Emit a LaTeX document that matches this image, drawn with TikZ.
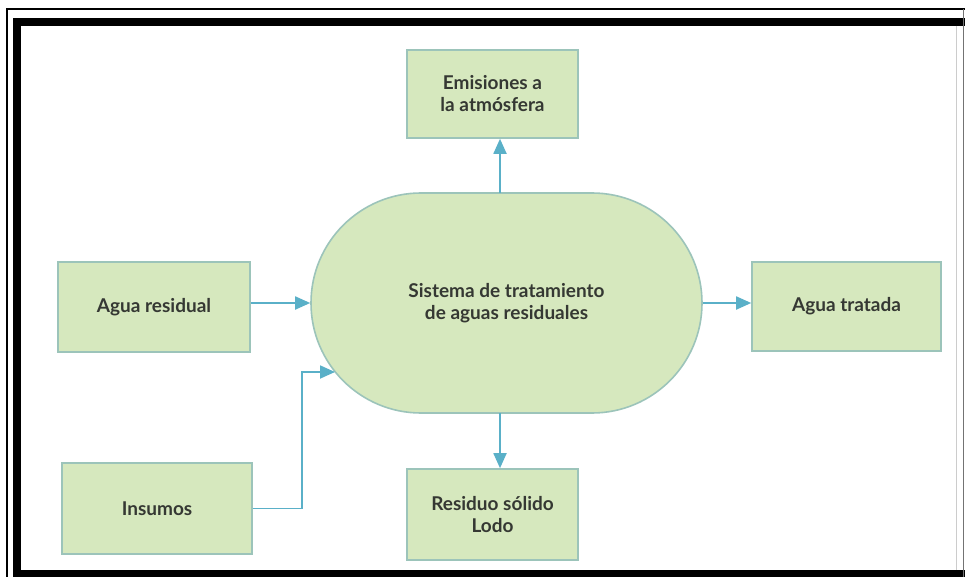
\documentclass[tikz,border=0pt]{standalone}
\usepackage{fontspec}
\setmainfont{Lato}
\usetikzlibrary{arrows.meta}
\definecolor{boxfill}{HTML}{D6E8BE}
\definecolor{boxline}{HTML}{9CC4BA}
\definecolor{arrowc}{HTML}{5AB0C8}
\definecolor{txt}{HTML}{353833}
\tikzset{
  box/.style={draw=boxline, fill=boxfill, line width=1.6pt, inner sep=0pt,
    font=\fontsize{19}{22}\selectfont\bfseries, text=txt, align=center},
  conn/.style={draw=arrowc, line width=1.8pt,
    -{Triangle[length=15pt,width=13pt,fill=arrowc]}},
}
\begin{document}
\begin{tikzpicture}[x=1pt,y=-1pt]
\useasboundingbox (0,0) rectangle (965,577);
\fill[white] (0,0) rectangle (965,577);
% frame
\draw[line width=1.8pt] (7,577) -- (7,9) -- (965,9);
\fill[black] (13,18) rectangle (965,26);
\fill[black] (13,18) rectangle (21,577);
\fill[black] (13,570) rectangle (965,577);
\draw[line width=0.9pt, black!55] (963,9) -- (963,577);
\draw[line width=0.8pt, black!20] (956,26) -- (956,570);
% nodes
\node[box, minimum width=171pt, minimum height=88pt] (emi) at (492.5,94) {Emisiones a\\la atmósfera};
\node[box, rounded corners=110pt, minimum width=391pt, minimum height=220pt] (sis) at (506.5,303) {Sistema de tratamiento\\de aguas residuales};
\node[box, minimum width=192pt, minimum height=90pt] (res) at (154,307) {Agua residual};
\node[box, minimum width=190pt, minimum height=91pt] (ins) at (157,508.5) {Insumos};
\node[box, minimum width=189pt, minimum height=89pt] (tra) at (846.5,306.5) {Agua tratada};
\node[box, minimum width=171pt, minimum height=91pt] (lod) at (492.5,514.5) {Residuo sólido\\Lodo};
% connectors
\coordinate (top) at (500,193);
\coordinate (bot) at (500,413);
\draw[conn] (top) -- (emi.south -| top);
\draw[conn] (bot) -- (lod.north -| bot);
\draw[conn] (res.east |- 0,303) -- (sis.west |- 0,303);
\draw[conn] (sis.east |- 0,303) -- (tra.west |- 0,303);
\coordinate (bend) at (302,372);
\coordinate (inend) at (335,372);
\draw[conn] (ins.east) -| (bend) -- (inend);
\end{tikzpicture}
\end{document}
